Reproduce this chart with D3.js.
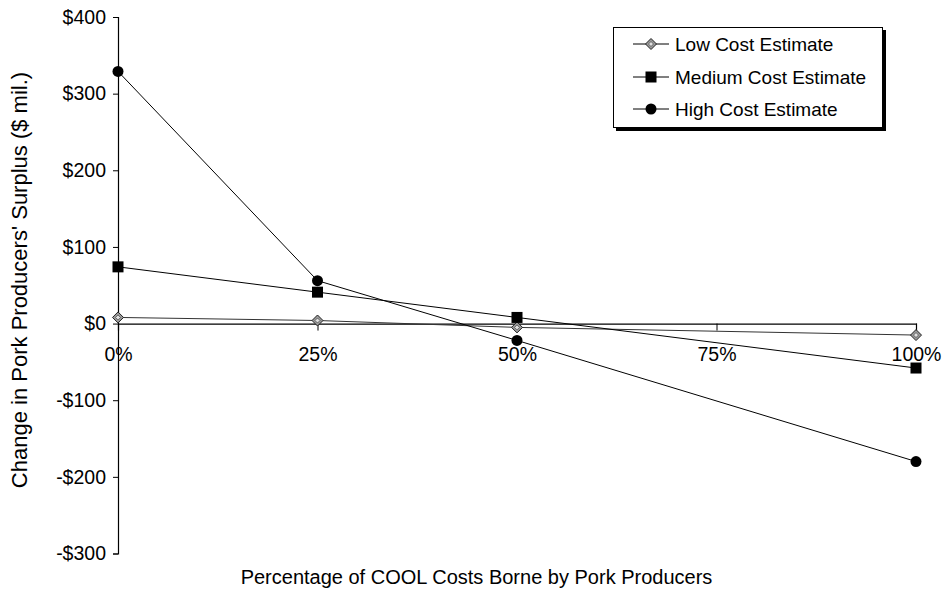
<!DOCTYPE html>
<html>
<head>
<meta charset="utf-8">
<script src="https://cdn.jsdelivr.net/npm/d3@7"></script>
<style>
  html, body { margin: 0; padding: 0; background: #fff; }
  svg { display: block; font-family: "Liberation Sans", Arial, Helvetica, sans-serif; }
</style>
</head>
<body>
<svg id="chart" width="945" height="589"></svg>
<script>
const percentages = [0, 25, 50, 100];
const xTickValues = [0, 25, 50, 75, 100];
const yTickValues = [-300, -200, -100, 0, 100, 200, 300, 400];
const lowCost = [8, 4, -5, -15];
const mediumCost = [74, 41, 8, -58];
const highCost = [329, 56, -22, -180];
const seriesNames = ["Low Cost Estimate", "Medium Cost Estimate", "High Cost Estimate"];
const xTitle = "Percentage of COOL Costs Borne by Pork Producers";
const yTitle = "Change in Pork Producers' Surplus ($ mil.)";

const series = [
  { name: seriesNames[0], values: lowCost, marker: "diamond" },
  { name: seriesNames[1], values: mediumCost, marker: "square" },
  { name: seriesNames[2], values: highCost, marker: "circle" }
];

const FONT = "Liberation Sans, Arial, sans-serif";
const svg = d3.select("#chart");
const x = d3.scaleLinear().domain([0, 100]).range([118, 916]);
const y = d3.scaleLinear().domain([-300, 400]).range([553.5, 17]);

// Y axis
const yAxis = d3.axisLeft(y).tickValues(yTickValues).tickSize(5).tickPadding(7)
  .tickFormat(d => (d < 0 ? "-" : "") + "$" + Math.abs(d));
const yg = svg.append("g").attr("transform", `translate(${x(0)},0)`).call(yAxis);
yg.select(".domain").attr("stroke", "#000").attr("stroke-width", 1.2);
yg.selectAll(".tick line").attr("stroke", "#000");
yg.selectAll(".tick text").attr("font-size", 19.5).attr("fill", "#000").attr("font-family", FONT);

// X axis along zero
const xAxis = d3.axisBottom(x).tickValues(xTickValues).tickSize(7).tickPadding(17)
  .tickFormat(d => d + "%");
const xg = svg.append("g").attr("transform", `translate(0,${y(0)})`).call(xAxis);
xg.select(".domain").attr("stroke", "#000").attr("stroke-width", 1.2);
xg.selectAll(".tick line").attr("stroke", "#000");
xg.selectAll(".tick text").attr("font-size", 19.5).attr("fill", "#000").attr("font-family", FONT);
xg.selectAll(".tick").filter(d => d === 0).select("line").remove();

// Lines
const line = d3.line().x((d, i) => x(percentages[i])).y(d => y(d));
series.forEach(s => {
  svg.append("path").datum(s.values)
    .attr("fill", "none")
    .attr("stroke", s.marker === "diamond" ? "#333" : "#000")
    .attr("stroke-width", 1)
    .attr("d", line);
});

function drawMarker(g, type, cx, cy) {
  if (type === "circle") {
    g.append("circle").attr("cx", cx).attr("cy", cy).attr("r", 5.5).attr("fill", "#000");
  } else if (type === "square") {
    g.append("rect").attr("x", cx - 5.5).attr("y", cy - 5.5).attr("width", 11).attr("height", 11).attr("fill", "#000");
  } else {
    const r = 5.5;
    g.append("path")
      .attr("d", `M${cx},${cy - r}L${cx + r},${cy}L${cx},${cy + r}L${cx - r},${cy}Z`)
      .attr("fill", "#9a9a9a").attr("stroke", "#222").attr("stroke-width", 1);
    g.append("path")
      .attr("d", `M${cx},${cy - 2.5}L${cx + 2.5},${cy}L${cx},${cy + 2.5}L${cx - 2.5},${cy}Z`)
      .attr("fill", "#e0e0e0").attr("stroke", "#444").attr("stroke-width", 0.7);
  }
}

// Markers
series.forEach(s => {
  const g = svg.append("g");
  s.values.forEach((v, i) => drawMarker(g, s.marker, x(percentages[i]), y(v)));
});

// Axis titles
svg.append("text").attr("x", 476.5).attr("y", 584).attr("text-anchor", "middle")
  .attr("font-size", 20).attr("fill", "#000").text(xTitle);
svg.append("text").attr("transform", "translate(27,280) rotate(-90)")
  .attr("text-anchor", "middle").attr("font-size", 22).attr("fill", "#000").text(yTitle);

// Legend
const lg = svg.append("g");
lg.append("rect").attr("x", 616).attr("y", 30).attr("width", 270).attr("height", 101).attr("fill", "#000");
lg.append("rect").attr("x", 613.5).attr("y", 27.5).attr("width", 269).attr("height", 100)
  .attr("fill", "#fff").attr("stroke", "#000").attr("stroke-width", 1);
const rowY = [44, 77, 109];
series.forEach((s, i) => {
  const yy = rowY[i];
  lg.append("line").attr("x1", 633).attr("x2", 669).attr("y1", yy).attr("y2", yy)
    .attr("stroke", "#000").attr("stroke-width", 1);
  drawMarker(lg, s.marker, 651, yy);
  lg.append("text").attr("x", 675).attr("y", yy).attr("dy", "0.35em")
    .attr("font-size", 19).attr("fill", "#000").text(s.name);
});
</script>
</body>
</html>
